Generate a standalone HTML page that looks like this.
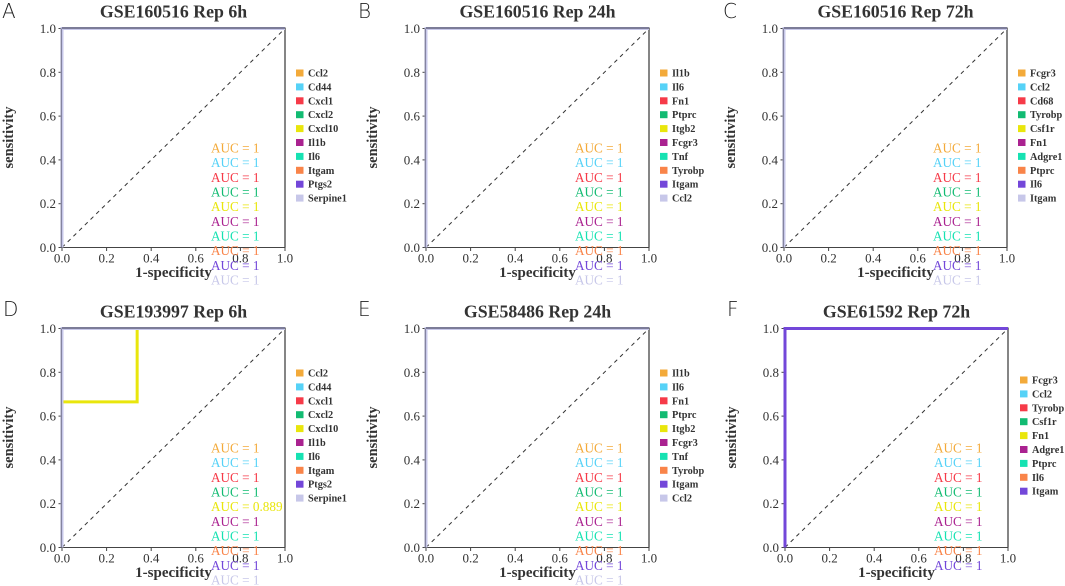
<!DOCTYPE html>
<html>
<head>
<meta charset="utf-8">
<title>ROC curves</title>
<style>
html,body{margin:0;padding:0;background:#fff;width:1065px;height:586px;overflow:hidden}
svg{display:block;position:absolute;left:0;top:0;filter:blur(0.3px)}
text{font-family:"Liberation Serif",serif}
</style>
</head>
<body>
<svg id="chart" xmlns="http://www.w3.org/2000/svg" width="1065" height="586" viewBox="0 0 1065 586"></svg>
<script>
const seriesColors = ['#f3aa3a','#56d2f7','#f63a48','#12bb72','#e9e60c','#aa2290','#16e2b2','#f98449','#7347d9','#c7c7e9'];
const tickValues = [0, 0.2, 0.4, 0.6, 0.8, 1];
const tickLabels = ['0.0','0.2','0.4','0.6','0.8','1.0'];

const genesA = ['Ccl2','Cd44','Cxcl1','Cxcl2','Cxcl10','Il1b','Il6','Itgam','Ptgs2','Serpine1'];
const genesB = ['Il1b','Il6','Fn1','Ptprc','Itgb2','Fcgr3','Tnf','Tyrobp','Itgam','Ccl2'];
const genesC = ['Fcgr3','Ccl2','Cd68','Tyrobp','Csf1r','Fn1','Adgre1','Ptprc','Il6','Itgam'];
const genesD = ['Ccl2','Cd44','Cxcl1','Cxcl2','Cxcl10','Il1b','Il6','Itgam','Ptgs2','Serpine1'];
const genesE = ['Il1b','Il6','Fn1','Ptprc','Itgb2','Fcgr3','Tnf','Tyrobp','Itgam','Ccl2'];
const genesF = ['Fcgr3','Ccl2','Tyrobp','Csf1r','Fn1','Adgre1','Ptprc','Il6','Itgam'];

const aucA = [1,1,1,1,1,1,1,1,1,1];
const aucB = [1,1,1,1,1,1,1,1,1,1];
const aucC = [1,1,1,1,1,1,1,1,1,1];
const aucD = [1,1,1,1,0.889,1,1,1,1,1];
const aucE = [1,1,1,1,1,1,1,1,1,1];
const aucF = [1,1,1,1,1,1,1,1,1];

const perfectFpr = [0,0,1];
const perfectTpr = [0,1,1];
const cxcl10Fpr = [0,0,0.337,0.337,1];
const cxcl10Tpr = [0,0.665,0.665,1,1];

const panels = [
  {id:'a',letter:'A',title:'GSE160516 Rep 6h',genes:genesA,auc:aucA,left:62,right:285,top:28.5,bottom:247.5,lx:296,ly:73,letterX:2,letterY:18},
  {id:'b',letter:'B',title:'GSE160516 Rep 24h',genes:genesB,auc:aucB,left:426,right:649,top:28.5,bottom:247.5,lx:660,ly:73,letterX:358,letterY:18},
  {id:'c',letter:'C',title:'GSE160516 Rep 72h',genes:genesC,auc:aucC,left:784,right:1007,top:28.5,bottom:247.5,lx:1018,ly:73,letterX:723,letterY:18},
  {id:'d',letter:'D',title:'GSE193997 Rep 6h',genes:genesD,auc:aucD,left:62,right:285,top:328.5,bottom:547.5,lx:296,ly:373,letterX:3,letterY:316,special:4},
  {id:'e',letter:'E',title:'GSE58486 Rep 24h',genes:genesE,auc:aucE,left:426,right:649,top:328.5,bottom:547.5,lx:660,ly:373,letterX:358,letterY:316},
  {id:'f',letter:'F',title:'GSE61592 Rep 72h',genes:genesF,auc:aucF,left:785,right:1008,top:328.5,bottom:547.5,lx:1020,ly:380,letterX:727,letterY:316}
];

const NS = 'http://www.w3.org/2000/svg';
const root = document.getElementById('chart');

function make(tag, parent, props, content) {
  const el = document.createElementNS(NS, tag);
  for (const k in props) el.setAttribute(k, props[k]);
  if (content !== undefined) el.textContent = content;
  parent.appendChild(el);
  return el;
}

function xScale(p, v) { return p.left + v * (p.right - p.left); }
function yScale(p, v) { return p.bottom - v * (p.bottom - p.top); }

panels.forEach(function (p) {
  const g = make('g', root, {});
  
  

  const letter = make('text', g, {x:p.letterX, y:p.letterY, 'font-size':20, fill:'#222', style:'font-family:"DejaVu Sans","Liberation Sans",sans-serif;font-weight:200'}, p.letter);
  
  

  const cx = (p.left + p.right) / 2;
  const title = make('text', g, {x:cx, y:p.top - 11, 'font-size':17.8, 'font-weight':'bold', fill:'#333', 'text-anchor':'middle'}, p.title);
  
  

  const frame = make('path', g, {d:'M' + p.left + ' ' + p.top + 'H' + p.right + 'V' + p.bottom, fill:'none', stroke:'#858585', 'stroke-width':2});
  
  

  const xAxis = make('line', g, {x1:p.left, x2:p.right, y1:p.bottom, y2:p.bottom, stroke:'#444', 'stroke-width':1});
  
  

  const yAxis = make('line', g, {x1:p.left, x2:p.left, y1:p.top, y2:p.bottom, stroke:'#444', 'stroke-width':1});
  
  

  const diag = make('line', g, {x1:xScale(p,0), y1:yScale(p,0), x2:xScale(p,1), y2:yScale(p,1), stroke:'#333', 'stroke-width':1, 'stroke-dasharray':'4 4'});
  
  

  tickValues.forEach(function (v, i) {
    const xt = make('line', g, {x1:xScale(p,v), x2:xScale(p,v), y1:p.bottom, y2:p.bottom + 3.5, stroke:'#444', 'stroke-width':1});
    
    
    const xl = make('text', g, {x:xScale(p,v), y:p.bottom + 15, 'font-size':13, fill:'#333', 'text-anchor':'middle'}, tickLabels[i]);
    
    
    const yt = make('line', g, {x1:p.left - 3.5, x2:p.left, y1:yScale(p,v), y2:yScale(p,v), stroke:'#444', 'stroke-width':1});
    
    
    const yl = make('text', g, {x:p.left - 6, y:yScale(p,v) + 4.5, 'font-size':13, fill:'#333', 'text-anchor':'end'}, tickLabels[i]);
    
    
  });

  const xTitle = make('text', g, {x:cx, y:p.bottom + 29.5, 'font-size':15, 'font-weight':'bold', fill:'#333', 'text-anchor':'middle'}, '1-specificity');
  
  

  const yMid = (p.top + p.bottom) / 2 - 0.5;
  const yTitleX = p.left - 49;
  const yTitle = make('text', g, {x:yTitleX, y:yMid, 'font-size':14.5, 'font-weight':'bold', fill:'#333', 'text-anchor':'middle', transform:'rotate(-90 ' + yTitleX + ' ' + yMid + ')'}, 'sensitivity');
  
  

  p.genes.forEach(function (gene, i) {
    const fpr = p.special === i ? cxcl10Fpr : perfectFpr;
    const tpr = p.special === i ? cxcl10Tpr : perfectTpr;
    const pts = fpr.map(function (f, k) { return xScale(p, f) + ',' + yScale(p, tpr[k]); }).join(' ');
    const line = make('polyline', g, {points:pts, fill:'none', stroke:seriesColors[i], 'stroke-width':3, 'stroke-linejoin':'miter'});
    
    
  });

  if (p.id !== 'f') {
    const topEdge = make('line', g, {x1:p.left, x2:p.right, y1:p.top - 0.5, y2:p.top - 0.5, stroke:'#7c7c98', 'stroke-width':2});
    
    
    const leftEdge = make('line', g, {x1:p.left - 0.7, x2:p.left - 0.7, y1:p.top, y2:p.bottom, stroke:'#7c7c98', 'stroke-width':1.2});
    
    
  }

  p.genes.forEach(function (gene, i) {
    const ly = p.ly + i * 13.9;
    const sw = make('rect', g, {x:p.lx, y:ly - 3.5, width:7.5, height:7, fill:seriesColors[i]});
    
    
    const lt = make('text', g, {x:p.lx + 12, y:ly + 3.5, 'font-size':10.3, 'font-weight':'bold', fill:'#333'}, gene);
    
    
  });

  p.auc.forEach(function (a, i) {
    const at = make('text', g, {x:p.left + 149, y:p.bottom - 95 + i * 14.67, 'font-size':13.2, fill:seriesColors[i]}, 'AUC = ' + a);
    
    
  });
});
</script>
</body>
</html>
